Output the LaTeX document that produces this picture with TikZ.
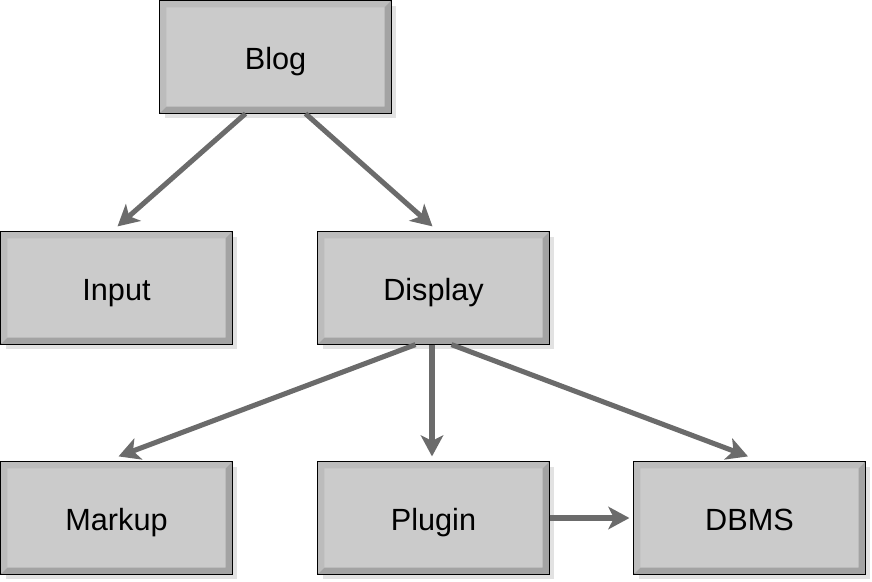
\documentclass[tikz,border=0pt]{standalone}
\usepackage{fontspec}
\setmainfont{Liberation Sans}
\usetikzlibrary{arrows.meta,shadows}
\definecolor{boxfill}{HTML}{CBCBCB}
\definecolor{bevlight}{HTML}{BCBCBC}
\definecolor{bevdark}{HTML}{A3A3A3}
\definecolor{shadowgray}{HTML}{E2E2E2}
\definecolor{arrowgray}{HTML}{6B6B6B}
\begin{document}
\begin{tikzpicture}[x=0.025cm,y=-0.025cm,
  module/.style={rectangle,draw=black,line width=0.8pt,fill=boxfill,inner sep=0pt,
    minimum width=164.3pt,minimum height=79.7pt,font=\fontsize{21.8}{26}\selectfont,
    text height=18.2pt,text depth=0pt,
    drop shadow={shadow xshift=3.6pt,shadow yshift=-3.6pt,fill=shadowgray,opacity=1}},
  link/.style={draw=arrowgray,line width=3.6pt,-{Stealth[length=15pt,width=16pt,inset=4pt]}}]
\useasboundingbox (0,0) rectangle (872,581);
% boxes
  \node[module] (blog)    at (275.5,57)  {Blog};
  \node[module] (input)   at (116.5,288) {Input};
  \node[module] (display) at (433.5,288) {Display};
  \node[module] (markup)  at (116.5,518) {Markup};
  \node[module] (plugin)  at (433.5,518) {Plugin};
  \node[module] (dbms)    at (749.5,518) {DBMS};
% bevels
  \foreach \n in {blog,input,display,markup,plugin,dbms} {
    \fill[bevlight] (\n.north west) -- (\n.north east) -- ([shift={(-7,7)}]\n.north east)
      -- ([shift={(7,7)}]\n.north west) -- ([shift={(7,-7)}]\n.south west) -- (\n.south west) -- cycle;
    \fill[bevdark] (\n.south west) -- (\n.south east) -- (\n.north east) -- ([shift={(-7,7)}]\n.north east)
      -- ([shift={(-7,-7)}]\n.south east) -- ([shift={(7,-7)}]\n.south west) -- cycle;
    \draw[line width=0.8pt] (\n.south west) rectangle (\n.north east);
  }
% links
  \draw[link] ([shift={(-30,0)}]blog.south) -- ([shift={(1,-5)}]input.north);
  \draw[link] ([shift={(30,0)}]blog.south) -- ([shift={(-1,-5)}]display.north);
  \draw[link] ([shift={(-18,0)}]display.south) -- ([shift={(2,-5)}]markup.north);
  \draw[link] ([shift={(-1.5,0)}]display.south) -- ([shift={(-1.5,-5)}]plugin.north);
  \draw[link] ([shift={(18,0)}]display.south) -- ([shift={(-1.5,-5)}]dbms.north);
  \draw[link] (plugin.east) -- ([shift={(-4,0)}]dbms.west);
\end{tikzpicture}
\end{document}
